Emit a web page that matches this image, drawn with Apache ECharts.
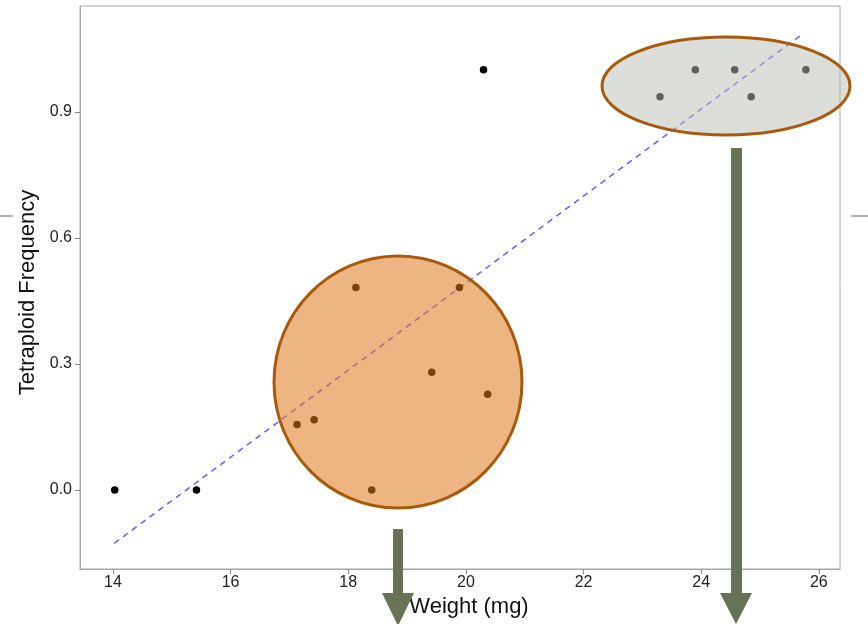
<!DOCTYPE html>
<html>
<head>
<meta charset="utf-8">
<script src="https://cdn.jsdelivr.net/npm/echarts@6/dist/echarts.min.js"></script>
<style>
  html, body { margin: 0; padding: 0; background: #fff; }
  #chart { width: 868px; height: 624px; }
</style>
</head>
<body>
<div id="chart"></div>
<script>
// weight (mg) vs tetraploid frequency
const lightPoints = [[14.03, 0.0], [15.42, 0.0], [20.3, 1.0]]
const midPoints = [
  [18.13, 0.482], [19.89, 0.482], [19.42, 0.280], [20.37, 0.228],
  [17.13, 0.156], [17.42, 0.167], [18.4, 0.0]
]
const heavyPoints = [
  [23.9, 1.0], [24.57, 1.0], [25.78, 1.0], [23.3, 0.936], [24.85, 0.936]
]
// fitted line end points
const fitLine = [[14.02, -0.127], [25.73, 1.086]]
const xTicks = [14, 16, 18, 20, 22, 24, 26]
const yTicks = [0, 0.3, 0.6, 0.9]

const chart = echarts.init(document.getElementById('chart'))

const font = 'Liberation Sans, Arial, sans-serif'
const axisGrey = '#a6a6a6'

const option = {
  animation: false,
  backgroundColor: '#fff',
  grid: {
    left: 80,
    top: 6,
    right: 28,
    bottom: 55,
    show: true,
    borderColor: axisGrey,
    borderWidth: 1
  },
  xAxis: {
    type: 'value',
    min: 13.44,
    max: 26.36,
    name: 'Weight (mg)',
    nameLocation: 'middle',
    nameGap: 19,
    nameTextStyle: { fontFamily: font, fontSize: 22, color: '#111', padding: [0, 0, 0, 18] },
    axisLine: { show: true, onZero: false, lineStyle: { color: axisGrey } },
    axisTick: { show: true, length: 5, customValues: xTicks, lineStyle: { color: '#888' } },
    axisLabel: {
      customValues: xTicks,
      margin: 6,
      fontFamily: font,
      fontSize: 16,
      color: '#222'
    },
    splitLine: { show: false }
  },
  yAxis: {
    type: 'value',
    min: -0.188,
    max: 1.152,
    name: 'Tetraploid Frequency',
    nameLocation: 'middle',
    nameGap: 25,
    nameTextStyle: { fontFamily: font, fontSize: 22, color: '#111', padding: [0, 10, 0, 0] },
    axisLine: { show: true, onZero: false, lineStyle: { color: axisGrey } },
    axisTick: { show: true, length: 5, customValues: yTicks, lineStyle: { color: '#888' } },
    axisLabel: {
      customValues: yTicks,
      margin: 8,
      fontFamily: font,
      fontSize: 16,
      color: '#222',
      formatter: v => v.toFixed(1)
    },
    splitLine: { show: false }
  },
  series: [
    {
      type: 'line',
      data: fitLine,
      symbol: 'none',
      lineStyle: { color: '#6b5cf5', width: 1.5, type: [6, 5] },
      z: 2
    },
    {
      type: 'scatter',
      data: lightPoints.concat(midPoints, heavyPoints),
      symbolSize: 7.5,
      itemStyle: { color: '#000', opacity: 1 },
      z: 3
    }
  ],
  graphic: [
    // side rules
    { type: 'line', shape: { x1: 0, y1: 216, x2: 13, y2: 216 }, style: { stroke: '#999', lineWidth: 1.5 }, z: 100 },
    { type: 'line', shape: { x1: 851, y1: 216, x2: 868, y2: 216 }, style: { stroke: '#999', lineWidth: 1.5 }, z: 100 },
    // highlight ellipses
    {
      type: 'ellipse',
      shape: { cx: 398, cy: 382, rx: 124, ry: 126 },
      style: { fill: 'rgba(222,120,25,0.55)', stroke: '#a85a0c', lineWidth: 3 },
      z: 100
    },
    {
      type: 'ellipse',
      shape: { cx: 726, cy: 86, rx: 124, ry: 49 },
      style: { fill: 'rgba(186,190,182,0.51)', stroke: '#a85a0c', lineWidth: 3 },
      z: 100
    },
    // arrows
    {
      type: 'polygon',
      shape: { points: [[393, 529], [403, 529], [403, 593], [414, 593], [398, 626], [382, 593], [393, 593]] },
      style: { fill: '#667455' },
      z: 101
    },
    {
      type: 'polygon',
      shape: { points: [[731, 148], [742, 148], [742, 593], [752, 593], [736, 624], [720, 593], [731, 593]] },
      style: { fill: '#667455' },
      z: 101
    }
  ]
}

chart.setOption(option)
</script>
</body>
</html>
